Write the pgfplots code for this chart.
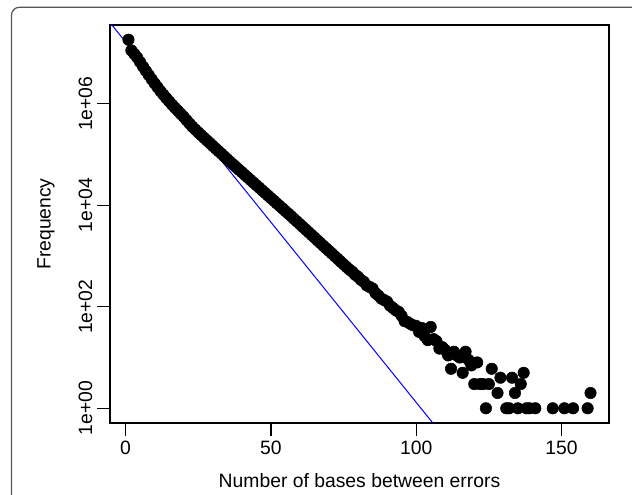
\documentclass[border=0pt]{standalone}
\usepackage{pgfplots}
\pgfplotsset{compat=1.18}
\usepackage{fontspec}
\setmainfont{Liberation Sans}
\begin{document}
\begin{tikzpicture}
\useasboundingbox (0,0) rectangle (474pt,371.25pt);
\draw[line width=0.9pt, color={rgb,255:red,85;green,85;blue,85}, rounded corners=6pt] (8.6pt,-20pt) -- (8.6pt,365.8pt) -- (500pt,365.8pt);
\begin{axis}[
  at={(82.5pt,54pt)}, anchor=south west,
  scale only axis, width=374.25pt, height=298.5pt,
  xmin=-5.36, xmax=166.36,
  ymode=log, ymin=0.513, ymax=3.55e7,
  axis line style={line width=0.95pt},
  tick align=outside, major tick length=9.75pt,
  tick style={line width=0.95pt, black},
  xtick pos=left, ytick pos=left,
  xtick={0,50,100,150}, xticklabels={0,50,100,150},
  ytick={1,100,10000,1000000}, yticklabels={1e+00,1e+02,1e+04,1e+06},
  yminorticks=false, xminorticks=false,
  every tick label/.append style={font=\fontsize{14.5}{16}\selectfont},
  yticklabel style={rotate=90, anchor=south},
  label style={font=\fontsize{14.5}{16}\selectfont},
  xlabel={Number of bases between errors},
  ylabel={Frequency},
  xlabel style={at={(axis description cs:0.5,-0.1457)}, anchor=center},
  ylabel style={at={(axis description cs:-0.1283,0.5)}, anchor=center},
]
\addplot[only marks, mark=*, mark size=4.3pt, black] coordinates {
(1,1.82e7)(2,1.12e7)(3,9.55e6)(4,8.12e6)(5,6.61e6)(6,5.37e6)(7,4.42e6)(8,3.64e6)(9,3.02e6)(10,2.51e6)
(11,2.11e6)(12,1.77e6)(13,1.51e6)(14,1.29e6)(15,1.11e6)(16,9.55e5)(17,8.32e5)(18,7.24e5)(19,6.31e5)(20,5.50e5)
(21,4.73e5)(22,4.07e5)(23,3.51e5)(24,3.09e5)(25,2.72e5)(26,2.41e5)(27,2.13e5)(28,1.89e5)(29,1.67e5)(30,1.48e5)
(31,1.31e5)(32,1.16e5)(33,1.03e5)(34,9.08e4)(35,8.04e4)(36,7.14e4)(37,6.35e4)(38,5.65e4)(39,5.02e4)(40,4.47e4)
(41,3.97e4)(42,3.53e4)(43,3.14e4)(44,2.79e4)(45,2.48e4)(46,2.21e4)(47,1.96e4)(48,1.75e4)(49,1.55e4)(50,1.38e4)
(51,1.23e4)(52,1.09e4)(53,9700)(54,8630)(55,7670)(56,6820)(57,6070)(58,5370)(59,4760)(60,4220)
(61,3740)(62,3310)(63,2940)(64,2600)(65,2310)(66,2040)(67,1810)(68,1600)(69,1420)(70,1260)
(71,1120)(72,989)(73,877)(74,776)(75,689)(76,610)(77,541)(78,490)(79,427)(80,389)
(81,339)(82,309)(83,263)(84,245)(85,229)(86,186)(87,166)(88,145)(89,135)(90,126)
(91,105)(92,95)(93,85)(94,79)(95,66)(96,52)(97,50)(98,46)(99,43)(100,42)
(101,32)(102,38)(103,26)(104,22)(105,40)(106,23)(107,21)(108,15)(109,16)(110,14)
(111,11)(112,6)(113,13)(114,11)(115,10)(116,5)(117,13)(118,9)(119,7)(120,3)
(121,8)(122,3)(123,3)(124,1)(125,3)(126,6)(128,2)(129,4)(131,1)(132,1)
(133,4)(134,2)(135,1)(136,3)(137,5)(138,1)(139,1)(141,1)(147,1)(151,1)(154,1)(159,1)(160,2)
};
\addplot[blue, line width=0.75pt] coordinates {(-10,8.43e7) (120,0.0498)};
\end{axis}
\end{tikzpicture}
\end{document}
